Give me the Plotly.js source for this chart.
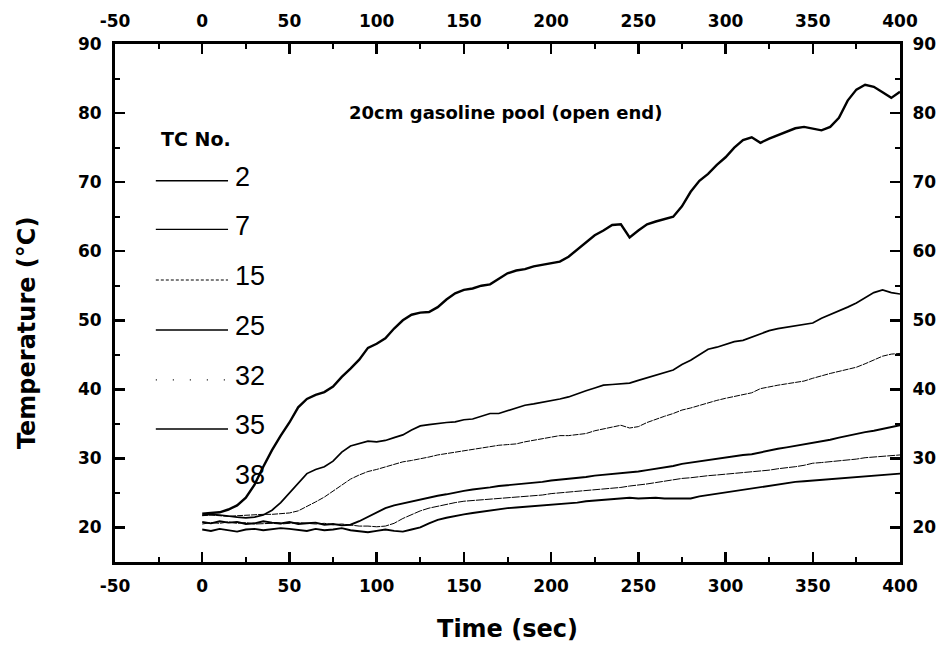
<!DOCTYPE html>
<html>
<head>
<meta charset="utf-8">
<script src="https://cdn.plot.ly/plotly-3.0.1.min.js"></script>
<style>html,body{margin:0;padding:0;background:#fff;}#chart{width:941px;height:649px;}</style>
</head>
<body>
<div id="chart"></div>
<script>
// ---- data ----
const time = [0,5,10,15,20,25,30,35,40,45,50,55,60,65,70,75,80,85,90,95,100,105,110,115,120,125,130,135,140,145,150,155,160,165,170,175,180,185,190,195,200,205,210,215,220,225,230,235,240,245,250,255,260,265,270,275,280,285,290,295,300,305,310,315,320,325,330,335,340,345,350,355,360,365,370,375,380,385,390,395,400];

const tc2 = [22.0,22.1,22.2,22.6,23.2,24.3,26.2,28.8,31.2,33.3,35.2,37.4,38.6,39.2,39.6,40.4,41.8,43.0,44.3,46.0,46.6,47.4,48.8,50.0,50.8,51.1,51.2,51.9,53.0,53.9,54.4,54.6,55.0,55.2,56.0,56.8,57.2,57.4,57.8,58.0,58.3,58.5,59.2,60.2,61.3,62.3,63.0,63.8,63.9,62.0,63.0,63.9,64.3,64.7,65.0,66.5,68.6,70.2,71.2,72.5,73.6,75.0,76.1,76.5,75.7,76.3,76.8,77.3,77.8,78.0,77.8,77.5,78.0,79.3,81.8,83.4,84.1,83.8,83.0,82.2,83.1];

const tc7 = [21.8,21.9,21.8,21.6,21.5,21.4,21.5,21.8,22.5,23.6,25.0,26.5,27.8,28.4,28.8,29.6,30.9,31.8,32.2,32.5,32.4,32.6,33.0,33.4,34.1,34.7,34.9,35.1,35.2,35.3,35.6,35.7,36.1,36.5,36.5,36.9,37.3,37.7,37.9,38.1,38.3,38.6,38.9,39.4,39.8,40.2,40.6,40.7,40.8,40.9,41.3,41.7,42.0,42.4,42.8,43.6,44.2,45.0,45.8,46.1,46.5,46.9,47.1,47.6,48.1,48.5,48.8,49.0,49.3,49.4,49.6,50.3,50.8,51.4,51.9,52.5,53.2,54.0,54.4,54.0,53.8];

const tc15 = [21.7,21.8,21.7,21.6,21.7,21.8,21.8,21.9,21.9,22.0,22.1,22.4,23.0,23.7,24.4,25.3,26.2,27.0,27.6,28.1,28.4,28.8,29.2,29.5,29.7,29.9,30.2,30.5,30.7,31.0,31.2,31.3,31.5,31.7,31.9,32.0,32.1,32.4,32.6,32.8,33.1,33.3,33.3,33.5,33.6,34.0,34.3,34.6,34.8,34.4,34.6,35.2,35.7,36.1,36.5,37.0,37.3,37.7,38.0,38.4,38.7,39.0,39.2,39.5,40.1,40.4,40.6,40.8,41.0,41.2,41.6,42.0,42.3,42.6,42.9,43.2,43.7,44.2,44.8,45.1,45.2];

const tc25 = [20.8,20.6,20.9,20.7,20.8,20.5,20.6,20.9,20.7,20.6,20.8,20.5,20.6,20.7,20.4,20.5,20.3,20.4,20.9,21.5,22.2,22.8,23.2,23.5,23.8,24.1,24.4,24.6,24.8,25.1,25.3,25.5,25.6,25.8,26.0,26.1,26.2,26.4,26.5,26.6,26.8,26.9,27.0,27.2,27.3,27.5,27.6,27.7,27.9,28.0,28.1,28.3,28.5,28.6,28.9,29.2,29.4,29.6,29.8,30.0,30.2,30.4,30.5,30.6,30.9,31.2,31.4,31.6,31.8,32.0,32.3,32.5,32.7,33.0,33.3,33.6,33.8,34.0,34.3,34.6,34.8];

const tc32 = [20.5,20.7,20.6,20.8,20.6,20.7,20.5,20.6,20.6,20.5,20.6,20.7,20.6,20.5,20.6,20.4,20.5,20.3,20.2,20.2,20.1,20.2,20.6,21.3,21.9,22.4,22.8,23.1,23.4,23.6,23.8,23.9,24.0,24.1,24.2,24.3,24.3,24.5,24.6,24.7,24.9,25.0,25.1,25.3,25.4,25.5,25.6,25.7,25.8,26.0,26.1,26.3,26.5,26.7,27.0,27.1,27.2,27.4,27.5,27.6,27.7,27.8,28.0,28.1,28.2,28.3,28.5,28.6,28.8,29.0,29.3,29.4,29.5,29.6,29.8,29.9,30.1,30.2,30.3,30.4,30.5];

const tc35 = [19.7,19.5,19.8,19.6,19.4,19.7,19.8,19.6,19.7,19.9,19.8,19.6,19.5,19.8,19.6,19.7,19.9,19.6,19.4,19.3,19.5,19.7,19.5,19.4,19.7,20.0,20.6,21.1,21.4,21.7,21.9,22.1,22.3,22.5,22.6,22.8,22.9,23.0,23.1,23.2,23.3,23.3,23.4,23.6,23.8,23.9,24.1,24.2,24.3,24.3,24.2,24.3,24.3,24.2,24.2,24.1,24.2,24.5,24.7,24.9,25.1,25.3,25.5,25.7,25.9,26.1,26.3,26.5,26.6,26.7,26.8,26.9,27.0,27.1,27.2,27.3,27.4,27.5,27.6,27.7,27.8];

const tcLabels = ["2","7","15","25","32","35","38"];
const xTicks = [-50,0,50,100,150,200,250,300,350,400];
const yTicks = [20,30,40,50,60,70,80,90];

// ---- styles ----
const seriesList = [tc2, tc7, tc15, tc25, tc32, tc35, null];
const styles = [
  {width:2.4, dash:'solid'},
  {width:1.7, dash:'solid'},
  {width:1.0, dash:'6px,1px'},
  {width:1.9, dash:'solid'},
  {width:1.0, dash:'8px,1px'},
  {width:1.9, dash:'solid'},
  null
];
const legendSample = [
  {width:1.6, dash:'solid'},
  {width:1.3, dash:'solid'},
  {width:1.0, dash:'3px,2px'},
  {width:1.6, dash:'solid'},
  {width:1.2, dash:'1px,16px'},
  {width:1.3, dash:'solid'},
  null
];

const traces = [];
seriesList.forEach((s, i) => {
  if (!s) return;
  traces.push({
    x: time, y: s, type: 'scatter', mode: 'lines', name: 'TC ' + tcLabels[i],
    line: {color: '#000', width: styles[i].width, dash: styles[i].dash},
    hoverinfo: 'skip', showlegend: false
  });
});
// companion trace for the mirrored top/right axes
traces.push({x: time, y: tc2, xaxis: 'x2', yaxis: 'y2', type: 'scatter', mode: 'lines',
  line: {color: 'rgba(0,0,0,0)', width: 0}, hoverinfo: 'skip', showlegend: false});

const FONT = 'Liberation Sans, Arial, Helvetica, sans-serif';
const WIDE = 'DejaVu Sans, Liberation Sans, Arial, sans-serif';
const tickFont = {family: WIDE, size: 17, color: '#000', weight: 'bold'};

function xAxis(extra) {
  return Object.assign({
    range: [-50, 400], tickmode: 'array', tickvals: xTicks, ticktext: xTicks.map(String),
    ticks: 'inside', ticklen: 10, tickwidth: 2.5, tickcolor: '#000',
    minor: {tickvals: [-25,25,75,125,175,225,275,325,375], ticks: 'inside', ticklen: 5, tickwidth: 2, tickcolor: '#000'},
    showline: true, linewidth: 3, linecolor: '#000', showgrid: false, zeroline: false,
    tickfont: tickFont, fixedrange: true, automargin: false, ticklabelstandoff: 7
  }, extra);
}
function yAxis(extra) {
  return Object.assign({
    range: [15, 90], tickmode: 'array', tickvals: yTicks, ticktext: yTicks.map(String),
    ticks: 'inside', ticklen: 10, tickwidth: 2.5, tickcolor: '#000',
    minor: {tickvals: [25,35,45,55,65,75,85], ticks: 'inside', ticklen: 5, tickwidth: 2, tickcolor: '#000'},
    showline: true, linewidth: 3, linecolor: '#000', showgrid: false, zeroline: false,
    tickfont: tickFont, fixedrange: true, automargin: false, ticklabelstandoff: 7
  }, extra);
}

// legend (manual, in paper coordinates)
const legLineY = [0.7361, 0.6423, 0.5444, 0.4479, 0.3514, 0.2568, 0.160];
const shapes = [];
const annotations = [];
tcLabels.forEach((lab, i) => {
  const st = legendSample[i];
  if (st) {
    shapes.push({type: 'line', xref: 'paper', yref: 'paper', x0: 0.052, x1: 0.144, y0: legLineY[i], y1: legLineY[i],
      line: {color: '#000', width: st.width, dash: st.dash}});
  }
  annotations.push({xref: 'paper', yref: 'paper', x: 0.150, y: legLineY[i] + 0.007, xanchor: 'left', yanchor: 'middle',
    text: lab, showarrow: false, font: {family: FONT, size: 27, color: '#000'}});
});
annotations.push({xref: 'paper', yref: 'paper', x: 0.056, y: 0.817, xanchor: 'left', yanchor: 'middle',
  text: 'TC No.', showarrow: false, font: {family: WIDE, size: 19, color: '#000', weight: 'bold'}});
annotations.push({xref: 'paper', yref: 'paper', x: 0.498, y: 0.867, xanchor: 'center', yanchor: 'middle',
  text: '20cm gasoline pool (open end)', showarrow: false, font: {family: WIDE, size: 18, color: '#000', weight: 'bold'}});
// y axis title
annotations.push({xref: 'paper', yref: 'paper', x: -0.112, y: 0.442, xanchor: 'center', yanchor: 'middle',
  textangle: -90, text: 'Temperature (°C)', showarrow: false, font: {family: WIDE, size: 24, color: '#000', weight: 'bold'}});

const layout = {
  width: 941, height: 649,
  margin: {l: 115, r: 41, t: 44, b: 87},
  paper_bgcolor: '#fff', plot_bgcolor: '#fff',
  showlegend: false,
  xaxis: xAxis({title: {text: 'Time (sec)', font: {family: WIDE, size: 24, color: '#000', weight: 'bold'}, standoff: 25}}),
  xaxis2: xAxis({overlaying: 'x', side: 'top', anchor: 'y'}),
  yaxis: yAxis({}),
  yaxis2: yAxis({overlaying: 'y', side: 'right', anchor: 'x', ticklabelstandoff: 6}),
  shapes: shapes,
  annotations: annotations
};

Plotly.newPlot('chart', traces, layout, {staticPlot: true, displayModeBar: false});
</script>
</body>
</html>
